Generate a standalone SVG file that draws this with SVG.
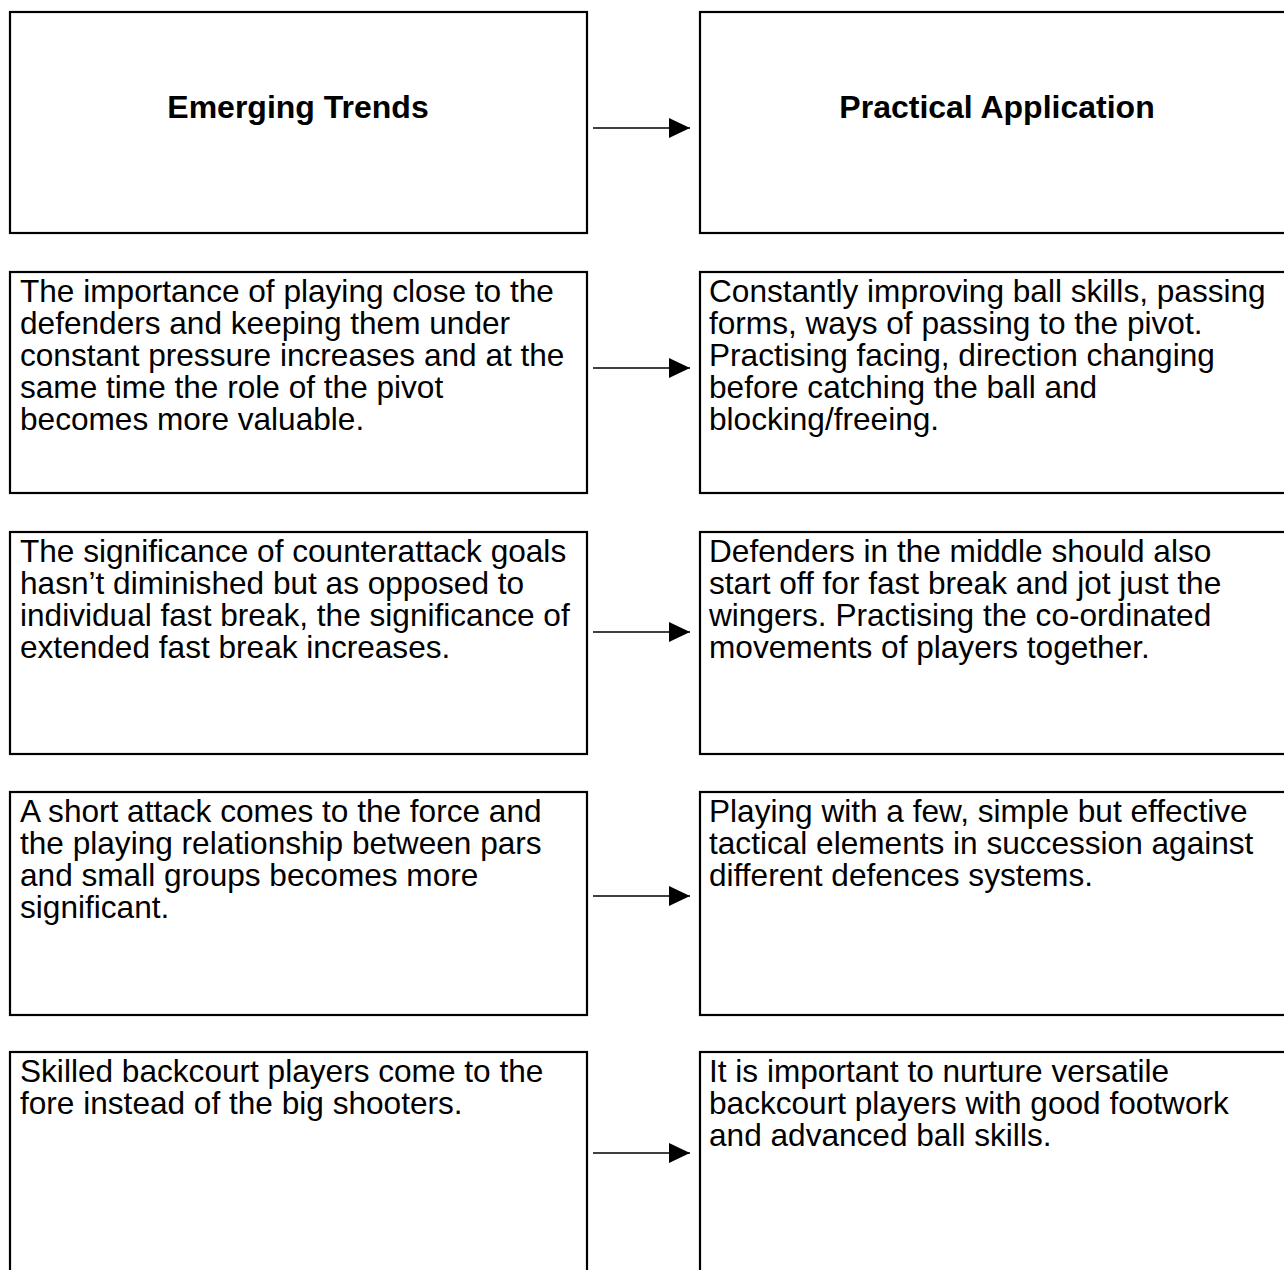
<svg xmlns="http://www.w3.org/2000/svg" width="1284" height="1270" viewBox="0 0 1284 1270">
<defs>
<style>
.box{fill:#fff;stroke:#000;stroke-width:2.2}
.t{font-family:"Liberation Sans",Arial,sans-serif;font-size:31.6px;fill:#000}
.h{font-family:"Liberation Sans",Arial,sans-serif;font-size:32px;font-weight:bold;fill:#000;text-anchor:middle}
.c{stroke:#000;stroke-width:1.6;fill:none}
</style>
<marker id="ah" markerWidth="21" markerHeight="20" refX="21" refY="10" markerUnits="userSpaceOnUse" orient="auto">
<path d="M0,0 L21,10 L0,20 Z" fill="#000"/>
</marker>
</defs>
<rect width="1284" height="1270" fill="#fff"/>
<g id="trends-header"><rect class="box" x="10" y="12" width="577" height="221"/><text class="h" x="298" y="118">Emerging Trends</text></g>
<g id="practical-header"><rect class="box" x="700" y="12" width="600" height="221"/><text class="h" x="997" y="118">Practical Application</text></g>
<g id="trend1"><rect class="box" x="10" y="272" width="577" height="221"/>
<text class="t" x="20" y="302">The importance of playing close to the</text>
<text class="t" x="20" y="334">defenders and keeping them under</text>
<text class="t" x="20" y="366">constant pressure increases and at the</text>
<text class="t" x="20" y="398">same time the role of the pivot</text>
<text class="t" x="20" y="430">becomes more valuable.</text></g>
<g id="practical1"><rect class="box" x="700" y="272" width="600" height="221"/>
<text class="t" x="709" y="302">Constantly improving ball skills, passing</text>
<text class="t" x="709" y="334">forms, ways of passing to the pivot.</text>
<text class="t" x="709" y="366">Practising facing, direction changing</text>
<text class="t" x="709" y="398">before catching the ball and</text>
<text class="t" x="709" y="430">blocking/freeing.</text></g>
<g id="trend2"><rect class="box" x="10" y="532" width="577" height="222"/>
<text class="t" x="20" y="562">The significance of counterattack goals</text>
<text class="t" x="20" y="594">hasn’t diminished but as opposed to</text>
<text class="t" x="20" y="626">individual fast break, the significance of</text>
<text class="t" x="20" y="658">extended fast break increases.</text></g>
<g id="practical2"><rect class="box" x="700" y="532" width="600" height="222"/>
<text class="t" x="709" y="562">Defenders in the middle should also</text>
<text class="t" x="709" y="594">start off for fast break and jot just the</text>
<text class="t" x="709" y="626">wingers. Practising the co-ordinated</text>
<text class="t" x="709" y="658">movements of players together.</text></g>
<g id="trend3"><rect class="box" x="10" y="792" width="577" height="223"/>
<text class="t" x="20" y="822">A short attack comes to the force and</text>
<text class="t" x="20" y="854">the playing relationship between pars</text>
<text class="t" x="20" y="886">and small groups becomes more</text>
<text class="t" x="20" y="918">significant.</text></g>
<g id="practical3"><rect class="box" x="700" y="792" width="600" height="223"/>
<text class="t" x="709" y="822">Playing with a few, simple but effective</text>
<text class="t" x="709" y="854">tactical elements in succession against</text>
<text class="t" x="709" y="886">different defences systems.</text></g>
<g id="trend4"><rect class="box" x="10" y="1052" width="577" height="260"/>
<text class="t" x="20" y="1082">Skilled backcourt players come to the</text>
<text class="t" x="20" y="1114">fore instead of the big shooters.</text></g>
<g id="practical4"><rect class="box" x="700" y="1052" width="600" height="260"/>
<text class="t" x="709" y="1082">It is important to nurture versatile</text>
<text class="t" x="709" y="1114">backcourt players with good footwork</text>
<text class="t" x="709" y="1146">and advanced ball skills.</text></g>
<g id="connectors">
<line class="c" x1="593" y1="128" x2="690" y2="128" marker-end="url(#ah)"/>
<line class="c" x1="593" y1="368" x2="690" y2="368" marker-end="url(#ah)"/>
<line class="c" x1="593" y1="632" x2="690" y2="632" marker-end="url(#ah)"/>
<line class="c" x1="593" y1="896" x2="690" y2="896" marker-end="url(#ah)"/>
<line class="c" x1="593" y1="1153" x2="690" y2="1153" marker-end="url(#ah)"/>
</g>
</svg>
